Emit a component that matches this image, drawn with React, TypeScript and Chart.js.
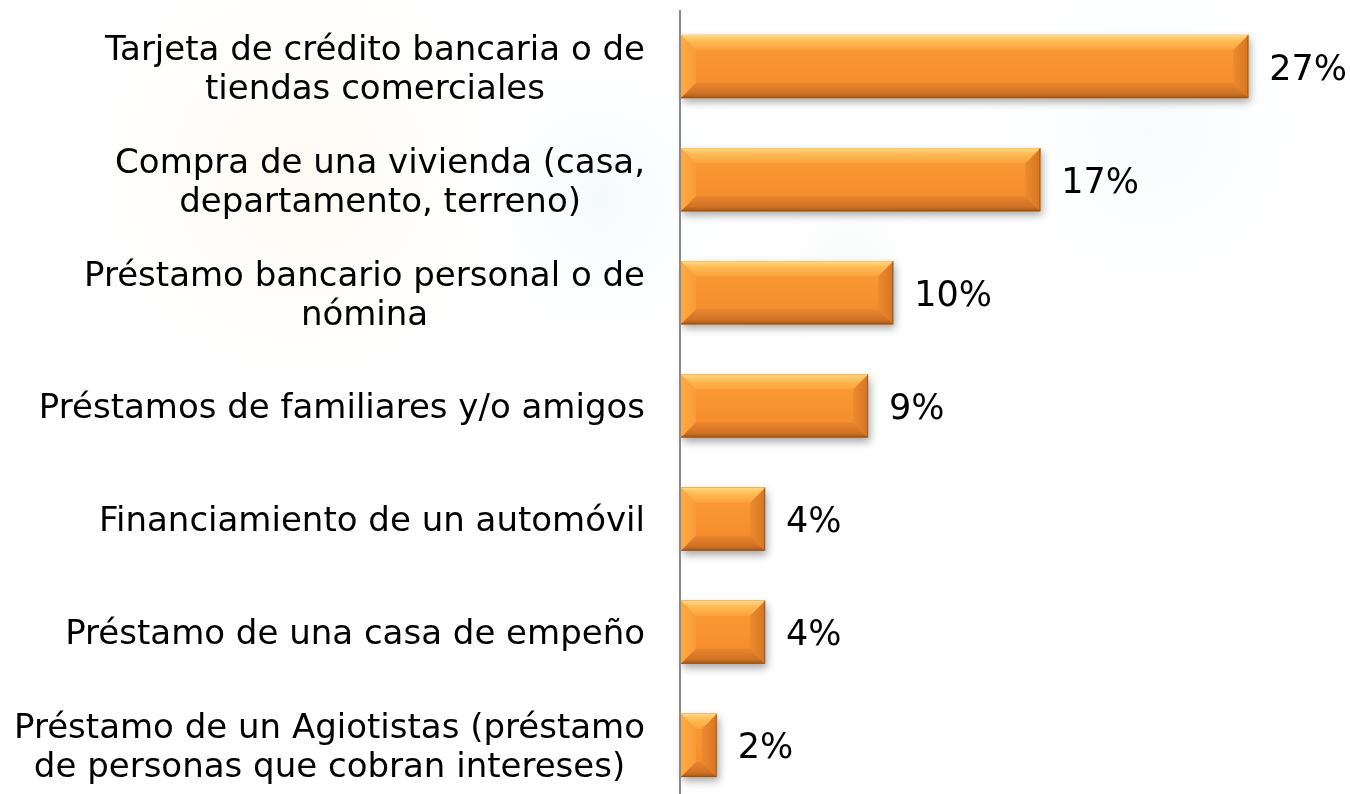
import React, { useEffect, useRef } from "react";
import { Chart, registerables } from "chart.js";

Chart.register(...registerables);

const categories: (string | string[])[] = [
  ["Tarjeta de crédito bancaria o de", "tiendas comerciales"],
  ["Compra de una vivienda (casa,", "departamento, terreno)"],
  ["Préstamo bancario personal o de", "nómina"],
  "Préstamos de familiares y/o amigos",
  "Financiamiento de un automóvil",
  "Préstamo de una casa de empeño",
  ["Préstamo de un Agiotistas (préstamo", "de personas que cobran intereses)"],
];

const shares: number[] = [27.0, 17.1, 10.1, 8.9, 4.0, 4.0, 1.7];
const shareLabels: string[] = ["27%", "17%", "10%", "9%", "4%", "4%", "2%"];

const FONT = "'DejaVu Sans', Verdana, sans-serif";
const LABEL_SIZE = 34;
const VALUE_SIZE = 35;

const backgroundPlugin = {
  id: "bg",
  beforeDraw(chart: any) {
    const ctx = chart.ctx;
    ctx.save();
    ctx.fillStyle = "#ffffff";
    ctx.fillRect(0, 0, chart.width, chart.height);
    const blob = (x: number, y: number, r: number, color: string) => {
      const g = ctx.createRadialGradient(x, y, 0, x, y, r);
      g.addColorStop(0, color);
      g.addColorStop(1, "rgba(255,255,255,0)");
      ctx.fillStyle = g;
      ctx.fillRect(x - r, y - r, r * 2, r * 2);
    };
    blob(300, 170, 260, "rgba(250,200,120,0.10)");
    blob(600, 200, 170, "rgba(150,200,235,0.10)");
    blob(1150, 130, 200, "rgba(170,215,235,0.10)");
    blob(850, 260, 150, "rgba(190,225,200,0.08)");
    ctx.restore();
  },
};

const bevelPlugin = {
  id: "bevel",
  beforeDatasetsDraw(chart: any) {
    const ctx = chart.ctx;
    const meta = chart.getDatasetMeta(0);
    ctx.save();
    meta.data.forEach((el: any) => {
      const p = el.getProps(["x", "y", "base", "height"], true);
      const L = Math.min(p.base, p.x);
      const R = Math.max(p.base, p.x);
      const T = p.y - p.height / 2;
      ctx.shadowColor = "rgba(0,0,0,0.35)";
      ctx.shadowBlur = 8;
      ctx.shadowOffsetX = 2;
      ctx.shadowOffsetY = 4;
      ctx.fillStyle = "#c06a1c";
      ctx.fillRect(L, T, R - L, p.height);
    });
    ctx.restore();
  },
  afterDatasetsDraw(chart: any) {
    const ctx = chart.ctx;
    const meta = chart.getDatasetMeta(0);
    ctx.save();
    meta.data.forEach((el: any) => {
      const p = el.getProps(["x", "y", "base", "height"], true);
      const L = Math.min(p.base, p.x);
      const R = Math.max(p.base, p.x);
      const T = p.y - p.height / 2;
      const B = p.y + p.height / 2;
      const b = Math.min(15, (R - L) / 2, p.height / 2);
      const poly = (pts: number[][], fill: any) => {
        ctx.beginPath();
        ctx.moveTo(pts[0][0], pts[0][1]);
        for (let i = 1; i < pts.length; i++) ctx.lineTo(pts[i][0], pts[i][1]);
        ctx.closePath();
        ctx.fillStyle = fill;
        ctx.fill();
      };
      // face
      const gf = ctx.createLinearGradient(0, T + b, 0, B - b);
      gf.addColorStop(0, "#f99833");
      gf.addColorStop(1, "#f58e2d");
      ctx.fillStyle = gf;
      ctx.fillRect(L, T, R - L, B - T);
      // left
      const gl = ctx.createLinearGradient(L, 0, L + b, 0);
      gl.addColorStop(0, "#fbab45");
      gl.addColorStop(1, "#f99c38");
      poly([[L, T], [L + b, T + b], [L + b, B - b], [L, B]], gl);
      // right
      const gr = ctx.createLinearGradient(R - b, 0, R, 0);
      gr.addColorStop(0, "#ec8a2e");
      gr.addColorStop(1, "#d67624");
      poly([[R, T], [R - b, T + b], [R - b, B - b], [R, B]], gr);
      // top
      const gt = ctx.createLinearGradient(0, T, 0, T + b);
      gt.addColorStop(0, "#ffd884");
      gt.addColorStop(0.4, "#fdbb55");
      gt.addColorStop(1, "#fba23c");
      poly([[L, T], [R, T], [R - b, T + b], [L + b, T + b]], gt);
      // bottom
      const gb = ctx.createLinearGradient(0, B - b, 0, B);
      gb.addColorStop(0, "#e9852c");
      gb.addColorStop(0.7, "#cf7224");
      gb.addColorStop(1, "#a5571a");
      poly([[L, B], [R, B], [R - b, B - b], [L + b, B - b]], gb);
      // edges
      ctx.strokeStyle = "rgba(150,80,20,0.75)";
      ctx.lineWidth = 1;
      ctx.beginPath();
      ctx.moveTo(R - 0.5, T);
      ctx.lineTo(R - 0.5, B - 0.5);
      ctx.lineTo(L, B - 0.5);
      ctx.stroke();
    });
    ctx.restore();
  },
};

const textPlugin = {
  id: "texts",
  afterDraw(chart: any) {
    const ctx = chart.ctx;
    const area = chart.chartArea;
    const yScale = chart.scales.y;
    ctx.save();
    // axis line
    ctx.strokeStyle = "#8a8a8a";
    ctx.lineWidth = 2;
    ctx.beginPath();
    ctx.moveTo(area.left - 1, area.top);
    ctx.lineTo(area.left - 1, chart.height);
    ctx.stroke();

    ctx.fillStyle = "#000000";
    // category labels
    ctx.font = `${LABEL_SIZE}px ${FONT}`;
    ctx.textBaseline = "alphabetic";
    ctx.textAlign = "center";
    (chart.data.labels as (string | string[])[]).forEach((lab, i) => {
      const lines = Array.isArray(lab) ? lab : [lab];
      const widest = Math.max(...lines.map((l) => ctx.measureText(l).width));
      const right = area.left - 36;
      const cx = right - widest / 2;
      const c = yScale.getPixelForValue(i);
      const first = c + 12 - (lines.length - 1) * 19;
      lines.forEach((l, j) => ctx.fillText(l, cx, first + j * 39));
    });
    // value labels
    ctx.font = `${VALUE_SIZE}px ${FONT}`;
    ctx.textAlign = "left";
    const meta = chart.getDatasetMeta(0);
    meta.data.forEach((el: any, i: number) => {
      const p = el.getProps(["x", "y"], true);
      ctx.fillText(shareLabels[i], p.x + 21, p.y + 13);
    });
    ctx.restore();
  },
};

export default function App() {
  const ref = useRef<HTMLCanvasElement | null>(null);
  useEffect(() => {
    if (!ref.current) return;
    const chart = new Chart(ref.current, {
      type: "bar",
      data: {
        labels: categories as any,
        datasets: [
          {
            data: shares,
            backgroundColor: "#f8922e",
            borderWidth: 0,
            barThickness: 63,
          },
        ],
      },
      options: {
        indexAxis: "y",
        animation: false,
        responsive: true,
        maintainAspectRatio: false,
        layout: { padding: { left: 681, right: 38.7, top: 10, bottom: 0 } },
        plugins: { legend: { display: false }, tooltip: { enabled: false } },
        scales: {
          x: { display: false, min: 0, max: 30 },
          y: { display: false, offset: true },
        },
      },
      plugins: [backgroundPlugin, bevelPlugin, textPlugin],
    });
    return () => chart.destroy();
  }, []);
  return (
    <div
      style={{
        position: "fixed",
        left: 0,
        top: 0,
        width: 1350,
        height: 794,
        overflow: "hidden",
        background: "#ffffff",
      }}
    >
      <div style={{ position: "relative", width: 1350, height: 802 }}>
        <canvas ref={ref} />
      </div>
    </div>
  );
}
